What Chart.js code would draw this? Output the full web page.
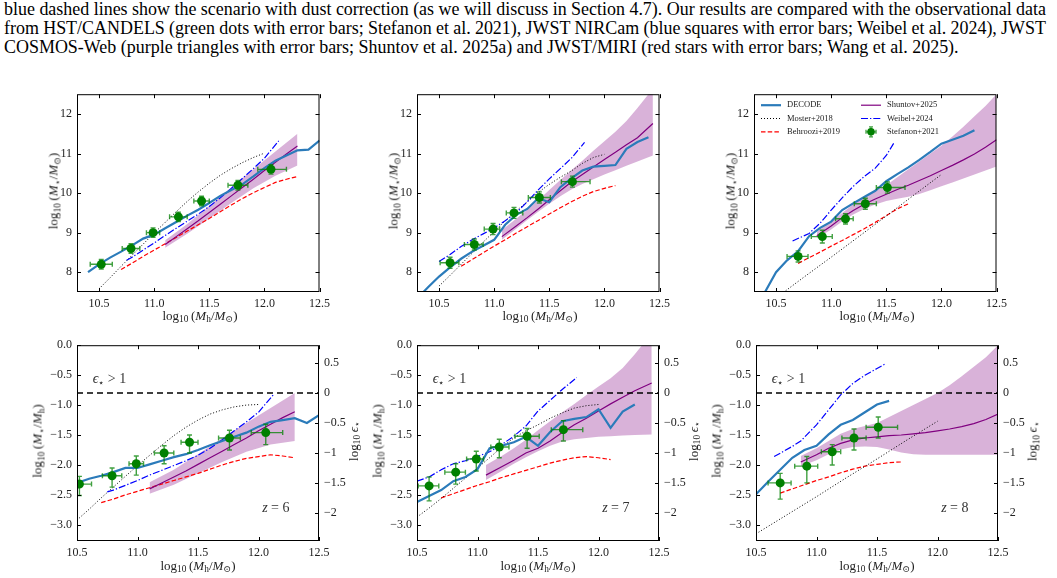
<!DOCTYPE html>
<html><head><meta charset="utf-8">
<script src="https://cdn.jsdelivr.net/npm/chart.js@4.4.1/dist/chart.umd.min.js"></script>
<style>
body{margin:0;background:#fff;}
#root{position:relative;width:1057px;height:578px;overflow:hidden;background:#fff;font-family:"Liberation Serif","DejaVu Serif",serif;color:#000;}
.hl{position:absolute;left:4px;white-space:nowrap;font-size:18px;line-height:19px;}
canvas{position:absolute;}
.at{position:absolute;white-space:nowrap;font-size:13px;color:#222;transform:translate(-50%,-50%);line-height:1;}
.rot{transform:translate(-50%,-50%) rotate(-90deg);}
.at sub{font-size:72%;vertical-align:-0.3em;line-height:0;}
</style></head><body><div id="root"></div>
<script>
// ---------------- tick labels ----------------
const topXTicks = [10.5, 11.0, 11.5, 12.0, 12.5];
const topYTicks = [8, 9, 10, 11, 12];
const botXTicks = [10.5, 11.0, 11.5, 12.0, 12.5];
const botYTicks = [0, -0.5, -1, -1.5, -2, -2.5, -3];
const effTicks  = [0.5, 0, -0.5, -1, -1.5, -2];
const effOffset = 0.8;            // log10 eps = log10(M*/Mh) + 0.8
const epsOneX = [10.5, 12.5];      // eps* = 1 line
const epsOneY = [-0.8, -0.8];

// ---------------- z = 6 ----------------
const decode6_x  = [10.4,10.5,10.6,10.7,10.8,10.9,11.0,11.1,11.2,11.3,11.4,11.5,11.6,11.7,11.8,11.9,12.0,12.1,12.2,12.3,12.4,12.5];
const decode6_ms = [8.0,8.2,8.37,8.52,8.68,8.85,8.95,9.11,9.27,9.43,9.58,9.75,9.93,10.08,10.22,10.42,10.63,10.82,10.95,11.08,11.1,11.33];
const decode6_r  = [-2.4,-2.3,-2.23,-2.18,-2.12,-2.05,-2.05,-1.99,-1.93,-1.87,-1.82,-1.75,-1.67,-1.6,-1.53,-1.46,-1.36,-1.28,-1.25,-1.22,-1.3,-1.17];
const moster6_x  = [10.5,10.6,10.7,10.8,10.9,11.0,11.1,11.2,11.3,11.4,11.5,11.6,11.7,11.8,11.9,12.0];
const moster6_ms = [7.58,7.86,8.15,8.43,8.71,8.99,9.26,9.53,9.79,10.03,10.25,10.45,10.62,10.77,10.9,11.01];
const moster6_r  = [-2.92,-2.74,-2.55,-2.37,-2.19,-2.01,-1.84,-1.67,-1.51,-1.37,-1.25,-1.15,-1.08,-1.03,-1.0,-0.99];
const behroozi6_x  = [10.7,10.8,10.9,11.0,11.1,11.2,11.3,11.4,11.5,11.6,11.7,11.8,11.9,12.0,12.1,12.2,12.3];
const behroozi6_ms = [8.07,8.23,8.4,8.56,8.72,8.88,9.04,9.2,9.36,9.53,9.7,9.86,10.01,10.14,10.27,10.35,10.42];
const behroozi6_r  = [-2.63,-2.57,-2.5,-2.44,-2.38,-2.32,-2.26,-2.2,-2.14,-2.07,-2.0,-1.94,-1.89,-1.86,-1.83,-1.85,-1.88];
const weibel6_x  = [10.75,10.8,10.9,11.0,11.1,11.2,11.3,11.4,11.5,11.6,11.7,11.8,11.9,12.0,12.13];
const weibel6_ms = [8.3,8.38,8.56,8.74,8.93,9.11,9.29,9.47,9.66,9.88,10.12,10.37,10.62,10.88,11.32];
const weibel6_r  = [-2.45,-2.42,-2.34,-2.26,-2.17,-2.09,-2.01,-1.93,-1.84,-1.72,-1.58,-1.43,-1.28,-1.12,-0.81];
const shuntov6_x  = [11.1,11.2,11.3,11.4,11.5,11.6,11.7,11.8,11.9,12.0,12.1,12.2,12.3];
const shuntov6_ms = [8.7,8.9,9.1,9.3,9.51,9.72,9.93,10.14,10.35,10.57,10.78,10.99,11.19];
const shuntov6_r  = [-2.4,-2.3,-2.2,-2.1,-1.99,-1.88,-1.77,-1.66,-1.55,-1.43,-1.32,-1.21,-1.11];
const band6_x     = [11.1,11.3,11.5,11.7,11.9,12.1,12.3];
const band6_ms_lo = [8.62,8.97,9.36,9.75,10.12,10.44,10.7];
const band6_ms_hi = [8.81,9.22,9.68,10.15,10.6,11.05,11.5];
const band6_r_lo  = [-2.48,-2.33,-2.14,-1.95,-1.78,-1.66,-1.6];
const band6_r_hi  = [-2.29,-2.08,-1.82,-1.55,-1.3,-1.05,-0.8];
const stef6_mh    = [10.52,10.79,10.99,11.22,11.43,11.76,12.06];
const stef6_mh_lo = [0.1,0.08,0.06,0.08,0.07,0.09,0.12];
const stef6_mh_hi = [0.1,0.08,0.06,0.08,0.07,0.09,0.14];
const stef6_ms    = [8.2,8.6,9.0,9.4,9.8,10.2,10.6];
const stef6_ms_e  = [0.12,0.12,0.12,0.12,0.12,0.12,0.12];
const stef6_r     = [-2.32,-2.18,-1.98,-1.8,-1.62,-1.55,-1.46];
const stef6_r_lo  = [0.19,0.19,0.19,0.18,0.18,0.2,0.2];
const stef6_r_hi  = [0.13,0.13,0.13,0.12,0.12,0.13,0.14];

// ---------------- z = 7 ----------------
const decode7_x  = [10.3,10.4,10.5,10.6,10.7,10.8,10.9,11.0,11.1,11.2,11.3,11.4,11.5,11.6,11.7,11.8,11.9,12.0,12.1,12.2,12.3,12.4];
const decode7_ms = [7.33,7.62,7.89,8.12,8.34,8.52,8.67,8.82,9.2,9.45,9.6,9.87,9.77,10.15,10.37,10.57,10.67,10.69,10.71,11.12,11.29,11.41];
const decode7_rx = [10.4,10.5,10.6,10.7,10.8,10.9,11.0,11.1,11.2,11.3,11.4,11.5,11.6,11.7,11.8,11.9,12.0,12.1,12.2,12.3];
const decode7_r  = [-2.8,-2.62,-2.52,-2.42,-2.27,-2.2,-2.07,-1.72,-1.68,-1.62,-1.53,-1.68,-1.45,-1.27,-1.23,-1.2,-1.07,-1.38,-1.11,-0.99];
const moster7_x  = [10.5,10.6,10.7,10.8,10.9,11.0,11.1,11.2,11.3,11.4,11.5,11.6,11.7,11.8,11.9,12.0];
const moster7_ms = [7.65,7.92,8.2,8.48,8.76,9.03,9.3,9.55,9.78,10.02,10.22,10.4,10.56,10.75,10.9,10.98];
const moster7_r  = [-2.87,-2.72,-2.56,-2.39,-2.22,-2.05,-1.88,-1.7,-1.55,-1.43,-1.33,-1.22,-1.13,-1.05,-1.01,-0.99];
const behroozi7_x  = [10.7,10.8,10.9,11.0,11.1,11.2,11.3,11.4,11.5,11.6,11.7,11.8,11.9,12.0,12.1];
const behroozi7_ms = [8.15,8.32,8.49,8.66,8.82,8.99,9.15,9.31,9.47,9.63,9.78,9.92,10.04,10.12,10.19];
const behroozi7_r  = [-2.55,-2.48,-2.41,-2.34,-2.28,-2.21,-2.15,-2.09,-2.03,-1.97,-1.92,-1.88,-1.86,-1.88,-1.91];
const weibel7_x  = [10.5,10.6,10.7,10.8,10.9,11.0,11.1,11.2,11.3,11.4,11.5,11.6,11.7,11.82];
const weibel7_ms = [8.27,8.45,8.65,8.82,8.97,9.12,9.3,9.5,9.78,10.08,10.36,10.62,10.88,11.28];
const weibel7_r  = [-2.27,-2.2,-2.08,-1.98,-1.93,-1.86,-1.78,-1.66,-1.52,-1.35,-1.1,-0.92,-0.74,-0.54];
const shuntov7_x  = [11.07,11.2,11.3,11.4,11.5,11.6,11.7,11.8,11.9,12.0,12.1,12.2,12.3,12.44];
const shuntov7_ms = [8.9,9.17,9.38,9.6,9.83,10.06,10.28,10.47,10.66,10.85,11.03,11.22,11.4,11.76];
const shuntov7_r  = [-2.17,-2.03,-1.92,-1.8,-1.72,-1.6,-1.46,-1.33,-1.22,-1.1,-0.98,-0.87,-0.76,-0.63];
const band7_ms_lo = [8.82,9.1,9.32,9.53,9.73,9.92,10.09,10.23,10.35,10.47,10.58,10.69,10.8,10.95];
const band7_ms_hi = [9.07,9.35,9.58,9.82,10.08,10.33,10.58,10.82,11.07,11.31,11.55,11.82,12.15,12.64];
const band7_r_lo  = [-2.25,-2.1,-1.98,-1.87,-1.77,-1.68,-1.61,-1.57,-1.55,-1.53,-1.52,-1.51,-1.5,-1.49];
const band7_r_hi  = [-2.0,-1.85,-1.72,-1.58,-1.42,-1.27,-1.12,-0.98,-0.83,-0.69,-0.55,-0.38,-0.15,0.2];
const stef7_mh    = [10.6,10.82,10.99,11.18,11.41,11.71];
const stef7_mh_lo = [0.09,0.09,0.08,0.07,0.1,0.1];
const stef7_mh_hi = [0.08,0.08,0.06,0.08,0.1,0.16];
const stef7_ms    = [8.24,8.7,9.09,9.5,9.89,10.29];
const stef7_ms_e  = [0.14,0.14,0.14,0.14,0.14,0.14];
const stef7_r     = [-2.35,-2.12,-1.9,-1.7,-1.52,-1.41];
const stef7_r_lo  = [0.25,0.2,0.2,0.18,0.2,0.19];
const stef7_r_hi  = [0.15,0.14,0.13,0.13,0.13,0.15];

// ---------------- z = 8 ----------------
const decode8_x  = [10.4,10.5,10.6,10.7,10.8,10.9,11.0,11.1,11.2,11.3,11.4,11.5,11.6,11.7,11.8,11.9,12.0,12.1,12.2,12.3];
const decode8_ms = [7.5,8.0,8.3,8.53,8.91,9.12,9.28,9.57,9.74,9.9,10.06,10.3,10.48,10.65,10.84,11.04,11.25,11.35,11.45,11.59];
const decode8_rx = [10.5,10.6,10.7,10.8,10.9,11.0,11.1,11.2,11.3,11.4,11.5,11.6];
const decode8_r  = [-2.49,-2.28,-2.08,-1.88,-1.75,-1.68,-1.49,-1.33,-1.25,-1.12,-0.99,-0.93];
const moster8_x  = [10.5,10.75,11.0,11.25,11.5,11.75,12.0];
const moster8_ms = [7.35,7.87,8.38,8.9,9.42,9.95,10.47];
const moster8_r  = [-3.15,-2.84,-2.53,-2.21,-1.9,-1.58,-1.27];
const behroozi8_x  = [10.7,10.8,10.9,11.0,11.1,11.2,11.3,11.4,11.5,11.6,11.7];
const behroozi8_ms = [8.22,8.37,8.51,8.66,8.8,8.95,9.1,9.26,9.43,9.6,9.73];
const behroozi8_r  = [-2.47,-2.4,-2.33,-2.26,-2.2,-2.13,-2.07,-2.02,-1.99,-1.96,-1.95];
const weibel8_x  = [10.65,10.8,10.9,11.0,11.1,11.2,11.3,11.4,11.5,11.57];
const weibel8_ms = [8.79,8.98,9.24,9.57,9.88,10.17,10.42,10.63,10.95,11.27];
const weibel8_rx = [10.65,10.8,10.87,11.0,11.1,11.2,11.3,11.4,11.5,11.57];
const weibel8_r  = [-1.86,-1.69,-1.6,-1.33,-1.08,-0.83,-0.64,-0.5,-0.39,-0.31];
const shuntov8_x  = [10.87,11.0,11.1,11.2,11.3,11.4,11.5,11.6,11.7,11.8,11.9,12.0,12.1,12.2,12.3,12.4,12.5];
const shuntov8_ms = [8.92,9.17,9.38,9.56,9.72,9.85,9.97,10.09,10.2,10.32,10.44,10.57,10.7,10.84,10.99,11.16,11.35];
const shuntov8_r  = [-1.95,-1.83,-1.72,-1.64,-1.58,-1.55,-1.53,-1.51,-1.5,-1.48,-1.46,-1.43,-1.4,-1.36,-1.31,-1.24,-1.15];
const band8_ms_lo = [8.85,9.08,9.28,9.46,9.6,9.71,9.8,9.86,9.91,9.98,10.07,10.17,10.27,10.37,10.47,10.57,10.67];
const band8_ms_hi = [9.02,9.28,9.5,9.72,9.9,10.05,10.2,10.4,10.6,10.8,11.0,11.2,11.43,11.68,11.94,12.2,12.5];
const band8_r_lo  = [-2.02,-1.92,-1.82,-1.74,-1.7,-1.69,-1.7,-1.74,-1.79,-1.82,-1.83,-1.83,-1.83,-1.83,-1.83,-1.83,-1.83];
const band8_r_hi  = [-1.85,-1.72,-1.6,-1.48,-1.4,-1.35,-1.3,-1.2,-1.1,-1.0,-0.9,-0.8,-0.67,-0.52,-0.36,-0.2,0.0];
const stef8_mh    = [10.7,10.92,11.13,11.31,11.51];
const stef8_mh_lo = [0.1,0.1,0.09,0.1,0.1];
const stef8_mh_hi = [0.09,0.09,0.07,0.1,0.16];
const stef8_ms    = [8.4,8.9,9.35,9.73,10.14];
const stef8_ms_e  = [0.14,0.16,0.13,0.14,0.14];
const stef8_r     = [-2.3,-2.02,-1.78,-1.55,-1.37];
const stef8_r_lo  = [0.27,0.28,0.22,0.2,0.18];
const stef8_r_hi  = [0.16,0.16,0.12,0.15,0.17];

// ---------------- header text ----------------
const HEAD = [
  "blue dashed lines show the scenario with dust correction (as we will discuss in Section 4.7). Our results are compared with the observational data",
  "from HST/CANDELS (green dots with error bars; Stefanon et al. 2021), JWST NIRCam (blue squares with error bars; Weibel et al. 2024), JWST",
  "COSMOS-Web (purple triangles with error bars; Shuntov et al. 2025a) and JWST/MIRI (red stars with error bars; Wang et al. 2025)."
];

// =====================================================
const FONT = '"Liberation Serif","DejaVu Serif",serif';
const root = document.getElementById('root');
const STY = {
  decode:   {color:'#2b7bba', width:2.2, dash:[]},
  moster:   {color:'#000000', width:1.0, dash:[1,2]},
  behroozi: {color:'#ff0000', width:1.2, dash:[4.5,2.2]},
  weibel:   {color:'#0000ff', width:1.2, dash:[7,2,1.3,2]},
  shuntov:  {color:'#800080', width:1.2, dash:[]},
  eps:      {color:'#000000', width:1.5, dash:[6,4]}
};
const BAND = 'rgba(128,0,128,0.3)';
const GREEN = '#008000';
const ERRC = 'rgba(0,128,0,0.75)';

function header(){
  const divs = HEAD.map((t,i)=>{const d=document.createElement('div');d.className='hl';d.textContent=t;d.style.top=(0+18.9*i)+'px';root.appendChild(d);return d;});
  const w3 = divs[2].getBoundingClientRect().width;
  const fs = 18*955/w3;
  divs.forEach(d=>d.style.fontSize=fs+'px');
  [0,1].forEach(i=>{const d=divs[i];const w=d.getBoundingClientRect().width;const n=(HEAD[i].match(/ /g)||[]).length;d.style.wordSpacing=((1042-w)/n)+'px';});
}
header();

const pts = (xs, ys) => xs.map((x,i)=>({x:x, y:ys[i]}));
function lineDs(xs, ys, sty, order){
  return {data:pts(xs,ys), borderColor:sty.color, borderWidth:sty.width, borderDash:sty.dash,
          pointRadius:0, fill:false, tension:0, order:order};
}

function fmtMinus(s){ return s.replace('-', '\u2212'); }

function drawRich(ctx, segs, x, y, size, align, color){
  let w = 0;
  const fontOf = s => (s.i?'italic ':'') + (s.sub? size*0.7 : size) + 'px ' + FONT;
  segs.forEach(s=>{ctx.font=fontOf(s); w+=ctx.measureText(s.t).width;});
  let cx = align==='center' ? x-w/2 : (align==='right' ? x-w : x);
  ctx.fillStyle = color || '#222';
  ctx.textBaseline = 'alphabetic';
  ctx.textAlign = 'left';
  segs.forEach(s=>{ctx.font=fontOf(s); ctx.fillText(s.t, cx, y + (s.sub? size*0.25:0)); cx+=ctx.measureText(s.t).width;});
}

const framePlugin = {
  id:'frame',
  afterDraw(chart){
    const {ctx, chartArea:a, scales} = chart;
    ctx.save();
    ctx.strokeStyle='#000'; ctx.lineWidth=1; ctx.setLineDash([]);
    ctx.strokeRect(a.left+0.5, a.top+0.5, a.right-a.left-1, a.bottom-a.top-1);
    const tl = 4;
    ctx.beginPath();
    scales.x.ticks.forEach(t=>{const p=Math.round(scales.x.getPixelForValue(t.value))+0.5;
      ctx.moveTo(p,a.bottom);ctx.lineTo(p,a.bottom-tl);ctx.moveTo(p,a.top);ctx.lineTo(p,a.top+tl);});
    scales.y.ticks.forEach(t=>{const p=Math.round(scales.y.getPixelForValue(t.value))+0.5;
      ctx.moveTo(a.left,p);ctx.lineTo(a.left+tl,p);
      if(!scales.y2){ctx.moveTo(a.right,p);ctx.lineTo(a.right-tl,p);} });
    if(scales.y2){ scales.y2.ticks.forEach(t=>{const p=Math.round(scales.y2.getPixelForValue(t.value))+0.5;
      ctx.moveTo(a.right,p);ctx.lineTo(a.right-tl,p);}); }
    ctx.stroke();
    ctx.restore();
  }
};

const errPlugin = {
  id:'errbars',
  beforeDatasetDraw(chart, args){
    const ds = chart.data.datasets[args.index];
    if(!ds.err) return;
    const {ctx, chartArea:a} = chart; const xs=chart.scales.x, ys=chart.scales.y;
    ctx.save(); ctx.beginPath(); ctx.rect(a.left,a.top,a.right-a.left,a.bottom-a.top); ctx.clip();
    ctx.strokeStyle=ERRC; ctx.lineWidth=1.4; ctx.setLineDash([]);
    const cap=2.5;
    ds.data.forEach((p,i)=>{
      const px=xs.getPixelForValue(p.x), py=ys.getPixelForValue(p.y);
      const x0=xs.getPixelForValue(p.x-ds.err.xlo[i]), x1=xs.getPixelForValue(p.x+ds.err.xhi[i]);
      const y0=ys.getPixelForValue(p.y-ds.err.ylo[i]), y1=ys.getPixelForValue(p.y+ds.err.yhi[i]);
      ctx.beginPath();
      ctx.moveTo(x0,py);ctx.lineTo(x1,py);ctx.moveTo(px,y0);ctx.lineTo(px,y1);
      ctx.moveTo(x0,py-cap);ctx.lineTo(x0,py+cap);ctx.moveTo(x1,py-cap);ctx.lineTo(x1,py+cap);
      ctx.moveTo(px-cap,y0);ctx.lineTo(px+cap,y0);ctx.moveTo(px-cap,y1);ctx.lineTo(px+cap,y1);
      ctx.stroke();
    });
    ctx.restore();
  }
};

const annotPlugin = {
  id:'annot',
  afterDatasetsDraw(chart, args, opts){
    if(!opts || !opts.items) return;
    const {ctx} = chart; const xs=chart.scales.x, ys=chart.scales.y;
    ctx.save();
    opts.items.forEach(it=>drawRich(ctx, it.segs, xs.getPixelForValue(it.x), ys.getPixelForValue(it.y), it.size, 'left', '#333'));
    ctx.restore();
  }
};

function handle(ctx, sty, x0, x1, y){
  ctx.strokeStyle=sty.color; ctx.lineWidth=sty.width; ctx.setLineDash(sty.dash);
  ctx.beginPath(); ctx.moveTo(x0,y); ctx.lineTo(x1,y); ctx.stroke(); ctx.setLineDash([]);
}
const legendPlugin = {
  id:'miniLegend',
  afterDraw(chart, args, opts){
    if(!opts || !opts.show) return;
    const {ctx, chartArea:a} = chart;
    ctx.save();
    const rows=[a.top+11, a.top+24.3, a.top+37.6];
    const c1=a.left+7, c2=a.left+107, hw=20, tx=26;
    const col1=[['DECODE',STY.decode],['Moster+2018',STY.moster],['Behroozi+2019',STY.behroozi]];
    const col2=[['Shuntov+2025',STY.shuntov],['Weibel+2024',STY.weibel],['Stefanon+2021',null]];
    ctx.font='8.5px '+FONT; ctx.textBaseline='middle'; ctx.textAlign='left';
    col1.forEach((e,i)=>{handle(ctx,e[1],c1,c1+hw,rows[i]); ctx.fillStyle='#222'; ctx.fillText(e[0],c1+tx,rows[i]);});
    col2.forEach((e,i)=>{
      if(e[1]) handle(ctx,e[1],c2,c2+hw,rows[i]);
      else {
        const cx=c2+hw/2, cy=rows[i];
        ctx.strokeStyle=ERRC; ctx.lineWidth=1.3; ctx.beginPath();
        ctx.moveTo(cx-5,cy);ctx.lineTo(cx+5,cy);ctx.moveTo(cx,cy-5);ctx.lineTo(cx,cy+5);
        ctx.moveTo(cx-5,cy-2);ctx.lineTo(cx-5,cy+2);ctx.moveTo(cx+5,cy-2);ctx.lineTo(cx+5,cy+2);
        ctx.moveTo(cx-2,cy-5);ctx.lineTo(cx+2,cy-5);ctx.moveTo(cx-2,cy+5);ctx.lineTo(cx+2,cy+5);
        ctx.stroke();
        ctx.fillStyle=GREEN; ctx.beginPath(); ctx.arc(cx,cy,3.8,0,Math.PI*2); ctx.fill();
      }
      ctx.fillStyle='#222'; ctx.font='8.5px '+FONT; ctx.textBaseline='middle'; ctx.fillText(e[0],c2+tx,rows[i]);
    });
    ctx.restore();
  }
};

function axisTitle(html, cx, cy, rot){
  const d=document.createElement('div'); d.className='at'+(rot?' rot':''); d.innerHTML=html;
  d.style.left=cx+'px'; d.style.top=cy+'px'; root.appendChild(d);
}

const T_MS  = 'log<sub>10</sub>&#8201;(<i>M</i><sub>\u22c6</sub>/<i>M</i><sub>\u2299</sub>)';
const T_MH  = 'log<sub>10</sub>&#8201;(<i>M</i><sub>h</sub>/<i>M</i><sub>\u2299</sub>)';
const T_R   = 'log<sub>10</sub>&#8201;(<i>M</i><sub>\u22c6</sub>/<i>M</i><sub>h</sub>)';
const T_EPS = 'log<sub>10</sub>&#8201;<i>\u03f5</i><sub>\u22c6</sub>';

function buildPanel(p){
  const LP=70, TP=8, BP=40, RP = p.bottom?60:12;
  const cv=document.createElement('canvas');
  cv.width=LP+p.W+RP; cv.height=TP+p.H+BP;
  cv.style.left=(p.L-LP)+'px'; cv.style.top=(p.T-TP)+'px';
  cv.style.width=cv.width+'px'; cv.style.height=cv.height+'px';
  root.appendChild(cv);
  const tickFont={family:FONT,size:12};
  const scales={
    x:{type:'linear',min:p.xmin,max:12.5,
       afterBuildTicks:s=>{s.ticks=p.xt.map(v=>({value:v}));},
       afterFit:s=>{s.height=BP;},
       grid:{display:false,drawTicks:false}, border:{display:false},
       ticks:{font:tickFont,color:'#222',padding:5,maxRotation:0,autoSkip:false,callback:v=>v.toFixed(1)}},
    y:{type:'linear',position:'left',min:p.ymin,max:p.ymax,
       afterBuildTicks:s=>{s.ticks=p.yt.map(v=>({value:v}));},
       afterFit:s=>{s.width=LP;},
       grid:{display:false,drawTicks:false}, border:{display:false},
       ticks:{font:tickFont,color:'#222',padding:5,autoSkip:false,
              callback:v=>p.bottom?fmtMinus(v.toFixed(1)):String(v)}}
  };
  if(p.bottom){
    scales.y2={type:'linear',position:'right',display:true,min:p.ymin+effOffset,max:p.ymax+effOffset,
       afterBuildTicks:s=>{s.ticks=effTicks.map(v=>({value:v}));},
       afterFit:s=>{s.width=RP;},
       grid:{display:false,drawTicks:false}, border:{display:false},
       ticks:{font:tickFont,color:'#222',padding:5,autoSkip:false,callback:v=>fmtMinus(String(v))}};
  }
  const s=p.series; const ds=[];
  ds.push({data:pts(s.band[0],s.band[1]),borderWidth:0,pointRadius:0,fill:false,order:20,borderColor:'rgba(0,0,0,0)'});
  ds.push({data:pts(s.band[0],s.band[2]),borderWidth:0,pointRadius:0,fill:'-1',backgroundColor:BAND,order:20,borderColor:'rgba(0,0,0,0)'});
  ds.push(lineDs(s.moster[0],s.moster[1],STY.moster,8));
  ds.push(lineDs(s.behroozi[0],s.behroozi[1],STY.behroozi,8));
  ds.push(lineDs(s.shuntov[0],s.shuntov[1],STY.shuntov,6));
  ds.push(lineDs(s.weibel[0],s.weibel[1],STY.weibel,6));
  if(p.bottom) ds.push(lineDs(epsOneX,epsOneY,STY.eps,5));
  ds.push(lineDs(s.decode[0],s.decode[1],STY.decode,3));
  ds.push({data:pts(s.stef[0],s.stef[1]),showLine:false,pointRadius:4.5,pointHoverRadius:4.5,
           pointBackgroundColor:GREEN,pointBorderColor:GREEN,pointBorderWidth:0,order:1,
           err:{xlo:s.stef[2],xhi:s.stef[3],ylo:s.stef[4],yhi:s.stef[5]}});
  const items = p.bottom ? [
    {segs:[{t:'\u03f5',i:true},{t:'\u22c6',sub:true},{t:' > 1'}], x:10.63, y:-0.63, size:14},
    {segs:[{t:'z',i:true},{t:' = '+p.z}], x:12.03, y:-2.78, size:14}
  ] : [];
  new Chart(cv,{type:'line',data:{datasets:ds},
    options:{responsive:false,animation:false,devicePixelRatio:1,
      layout:{padding:{top:TP,right:p.bottom?0:RP,left:0,bottom:0}},
      scales:scales,
      plugins:{legend:{display:false},tooltip:{enabled:false},annot:{items:items},miniLegend:{show:!!p.legend}}},
    plugins:[framePlugin,errPlugin,annotPlugin,legendPlugin]});
  // axis titles
  const cy=p.T+p.H/2;
  if(p.bottom){
    axisTitle(T_R, p.L-40, cy, true);
    axisTitle(T_MH, p.L+p.W/2, p.T+p.H+24, false);
    axisTitle(T_EPS, p.L+p.W+34, cy, true);
  } else {
    axisTitle(T_MS, p.L-24, cy, true);
    axisTitle(T_MH, p.L+p.W/2, p.T+p.H+23, false);
  }
}

const TOP = {xmin:10.3, ymin:7.5, ymax:12.5, xt:topXTicks, yt:topYTicks, T:90, H:202, W:246};
const BOT = {xmin:10.5, ymin:-3.27, ymax:0.0, xt:botXTicks, yt:botYTicks, T:341, H:200, W:242, bottom:true};

buildPanel(Object.assign({}, TOP, {L:77, z:6, series:{
  band:[band6_x,band6_ms_lo,band6_ms_hi], moster:[moster6_x,moster6_ms], behroozi:[behroozi6_x,behroozi6_ms],
  shuntov:[shuntov6_x,shuntov6_ms], weibel:[weibel6_x,weibel6_ms], decode:[decode6_x,decode6_ms],
  stef:[stef6_mh,stef6_ms,stef6_mh_lo,stef6_mh_hi,stef6_ms_e,stef6_ms_e]}}));
buildPanel(Object.assign({}, TOP, {L:417, z:7, series:{
  band:[shuntov7_x,band7_ms_lo,band7_ms_hi], moster:[moster7_x,moster7_ms], behroozi:[behroozi7_x,behroozi7_ms],
  shuntov:[shuntov7_x,shuntov7_ms], weibel:[weibel7_x,weibel7_ms], decode:[decode7_x,decode7_ms],
  stef:[stef7_mh,stef7_ms,stef7_mh_lo,stef7_mh_hi,stef7_ms_e,stef7_ms_e]}}));
buildPanel(Object.assign({}, TOP, {L:754, z:8, legend:true, series:{
  band:[shuntov8_x,band8_ms_lo,band8_ms_hi], moster:[moster8_x,moster8_ms], behroozi:[behroozi8_x,behroozi8_ms],
  shuntov:[shuntov8_x,shuntov8_ms], weibel:[weibel8_x,weibel8_ms], decode:[decode8_x,decode8_ms],
  stef:[stef8_mh,stef8_ms,stef8_mh_lo,stef8_mh_hi,stef8_ms_e,stef8_ms_e]}}));

buildPanel(Object.assign({}, BOT, {L:77, z:6, series:{
  band:[band6_x,band6_r_lo,band6_r_hi], moster:[moster6_x,moster6_r], behroozi:[behroozi6_x,behroozi6_r],
  shuntov:[shuntov6_x,shuntov6_r], weibel:[weibel6_x,weibel6_r], decode:[decode6_x,decode6_r],
  stef:[stef6_mh,stef6_r,stef6_mh_lo,stef6_mh_hi,stef6_r_lo,stef6_r_hi]}}));
buildPanel(Object.assign({}, BOT, {L:417, z:7, series:{
  band:[shuntov7_x,band7_r_lo,band7_r_hi], moster:[moster7_x,moster7_r], behroozi:[behroozi7_x,behroozi7_r],
  shuntov:[shuntov7_x,shuntov7_r], weibel:[weibel7_x,weibel7_r], decode:[decode7_rx,decode7_r],
  stef:[stef7_mh,stef7_r,stef7_mh_lo,stef7_mh_hi,stef7_r_lo,stef7_r_hi]}}));
buildPanel(Object.assign({}, BOT, {L:756, z:8, series:{
  band:[shuntov8_x,band8_r_lo,band8_r_hi], moster:[moster8_x,moster8_r], behroozi:[behroozi8_x,behroozi8_r],
  shuntov:[shuntov8_x,shuntov8_r], weibel:[weibel8_rx,weibel8_r], decode:[decode8_rx,decode8_r],
  stef:[stef8_mh,stef8_r,stef8_mh_lo,stef8_mh_hi,stef8_r_lo,stef8_r_hi]}}));
</script></body></html>
